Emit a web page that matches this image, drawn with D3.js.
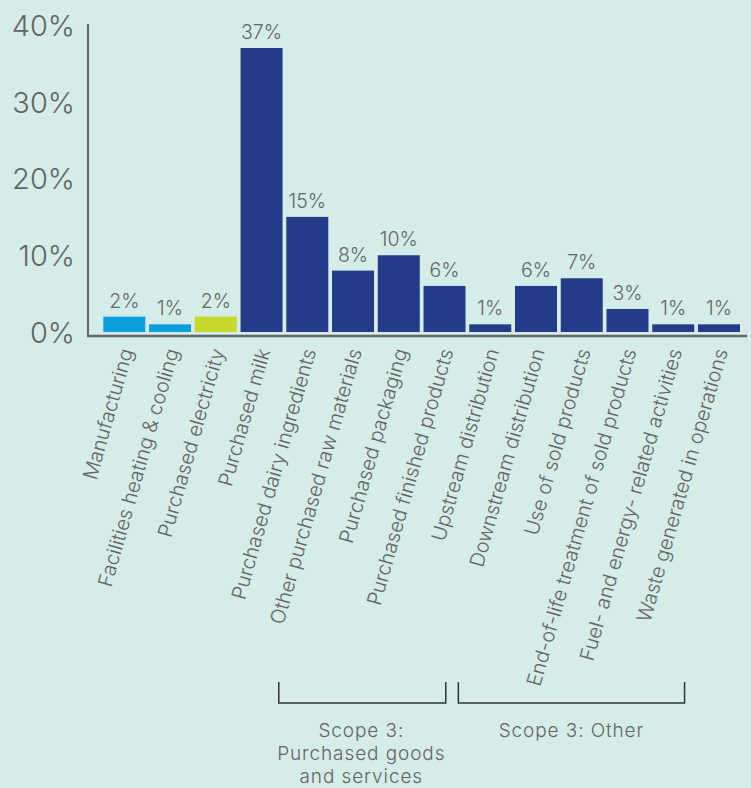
<!DOCTYPE html>
<html>
<head>
<meta charset="utf-8">
<script src="https://cdn.jsdelivr.net/npm/d3@7"></script>
<style>
  html, body { margin: 0; padding: 0; background: #d4ede9; }
  svg { display: block; font-family: Inter, "Noto Sans", sans-serif; }
</style>
</head>
<body>
<svg id="chart" width="751" height="788"></svg>
<script>
// Emission categories and their share of the footprint (%)
const categories = [
  "Manufacturing",
  "Facilities heating & cooling",
  "Purchased electricity",
  "Purchased milk",
  "Purchased dairy ingredients",
  "Other purchased raw materials",
  "Purchased packaging",
  "Purchased finished products",
  "Upstream distribution",
  "Downstream distribution",
  "Use of sold products",
  "End-of-life treatment of sold products",
  "Fuel- and energy- related activities",
  "Waste generated in operations"
];
const shares = [2, 1, 2, 37, 15, 8, 10, 6, 1, 6, 7, 3, 1, 1];
const groups = ["scope1", "scope1", "scope2", "scope3", "scope3", "scope3", "scope3",
                "scope3", "scope3", "scope3", "scope3", "scope3", "scope3", "scope3"];
const yTicks = [0, 10, 20, 30, 40];

// Scope 3 sub-group brackets: first and last category covered
const brackets = [
  { lines: ["Scope 3:", "Purchased goods", "and services"], from: "Purchased milk", to: "Purchased finished products" },
  { lines: ["Scope 3: Other"], from: "Upstream distribution", to: "Fuel- and energy- related activities" }
];

const colors = { scope1: "#0c9fdb", scope2: "#c8d92b", scope3: "#243c87" };
const textGray = "#646464";

const svg = d3.select("#chart");

const x = d3.scaleBand()
  .domain(categories)
  .range([101.5, 741.8])
  .paddingInner(0.082)
  .paddingOuter(0.04);

const y = d3.scaleLinear().domain([0, 40]).range([332, 25]);

// Bars
svg.append("g").selectAll("rect")
  .data(categories)
  .join("rect")
  .attr("x", d => x(d))
  .attr("width", x.bandwidth())
  .attr("y", (d, i) => y(shares[i]))
  .attr("height", (d, i) => y(0) - y(shares[i]))
  .attr("fill", (d, i) => colors[groups[i]]);

// Value labels above bars
svg.append("g").selectAll("text")
  .data(categories)
  .join("text")
  .attr("x", d => x(d) + x.bandwidth() / 2)
  .attr("y", (d, i) => y(shares[i]) - 9)
  .attr("text-anchor", "middle")
  .attr("font-size", 19.5)
  .attr("font-weight", 300)
  .attr("fill", textGray)
  .text((d, i) => shares[i] + "%");

// Y axis
const yAxis = svg.append("g")
  .attr("transform", "translate(88,0)")
  .call(d3.axisLeft(y).tickValues(yTicks).tickSize(0).tickPadding(13).tickFormat(d => d + "%"));
yAxis.select(".domain").remove();
yAxis.selectAll("text")
  .attr("font-size", 29)
  .attr("font-weight", 300)
  .attr("font-family", "Inter, sans-serif")
  .attr("fill", textGray)
  .attr("dy", "0.36em");

svg.append("line")
  .attr("x1", 88).attr("x2", 88)
  .attr("y1", 24).attr("y2", 337)
  .attr("stroke", "#666").attr("stroke-width", 2);

// Baseline
svg.append("line")
  .attr("x1", 87).attr("x2", 747)
  .attr("y1", 336).attr("y2", 336)
  .attr("stroke", "#666").attr("stroke-width", 2.5);

// Rotated category labels
const xAxis = svg.append("g")
  .attr("transform", "translate(0,336)")
  .call(d3.axisBottom(x).tickSize(0).tickPadding(0));
xAxis.select(".domain").remove();
xAxis.selectAll(".tick text")
  .attr("font-size", 20)
  .attr("font-weight", 300)
  .attr("font-family", "Inter, sans-serif")
  .attr("fill", textGray)
  .attr("text-anchor", "end")
  .attr("dy", 0)
  .attr("y", 0)
  .attr("transform", "translate(9,15) rotate(-74)");

// Brackets with group captions
const bw = x.bandwidth();
brackets.forEach((b, k) => {
  const x1 = k === 0 ? x(b.from) + bw * 0.91 : x(b.from) - bw * 0.26;
  const x2 = k === 0 ? x(b.to) + bw * 0.53 : x(b.to) + bw * 0.77;
  const cx = (x1 + x2) / 2 + (k === 0 ? -1 : 0);
  svg.append("path")
    .attr("d", `M${x1},682 V703 H${x2} V682`)
    .attr("fill", "none")
    .attr("stroke", "#333")
    .attr("stroke-width", 1.5);
  const t = svg.append("text")
    .attr("x", cx)
    .attr("y", 737)
    .attr("text-anchor", "middle")
    .attr("font-size", 19)
    .attr("font-weight", 300)
    .attr("letter-spacing", 0.9)
    .attr("fill", textGray);
  b.lines.forEach((line, j) => {
    t.append("tspan")
      .attr("x", cx)
      .attr("dy", j === 0 ? 0 : 23)
      .text(line);
  });
});
</script>
</body>
</html>
